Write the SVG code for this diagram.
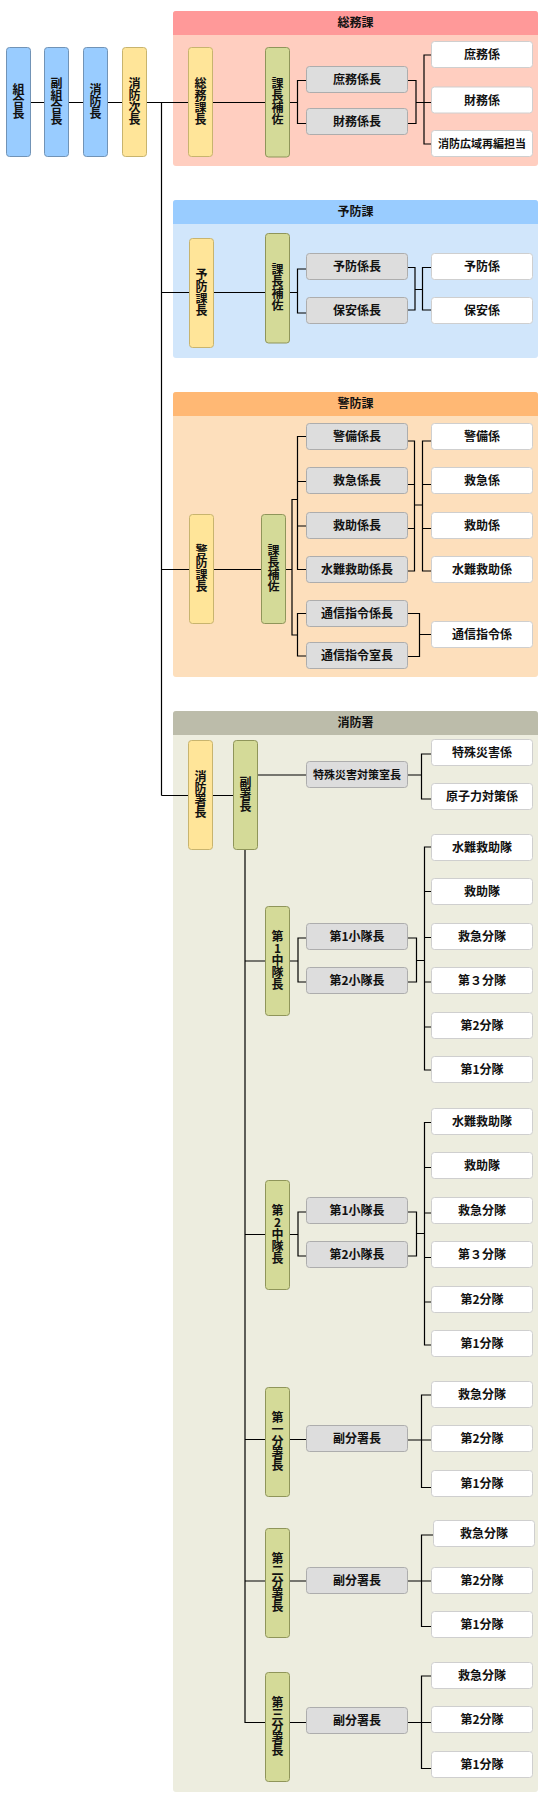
<svg xmlns="http://www.w3.org/2000/svg" width="545" height="1801" viewBox="0 0 545 1801">
<style>
text{font-family:"Noto Sans CJK JP","Noto Sans",sans-serif;font-size:12px;font-weight:700;fill:#111;text-anchor:middle}
.v{writing-mode:vertical-rl;text-orientation:upright;glyph-orientation-vertical:0}
.sm{font-size:11px}
.b{fill:#99ccff;stroke:#7193b6;stroke-width:1}
.y{fill:#ffe599;stroke:#c8b46e;stroke-width:1}
.g{fill:#d4da98;stroke:#8f955a;stroke-width:1}
.gr{fill:#dddddd;stroke:#adadad;stroke-width:1}
.w{fill:#ffffff;stroke:#cfcfcf;stroke-width:1}
.ln{fill:none;stroke:#000;stroke-width:1.2}
</style>
<rect width="545" height="1801" fill="#ffffff"/>
<g id="panels">
<g id="panel-soumu"><rect x="173" y="11" width="365" height="155" rx="3" fill="#ffcec0"/><path d="M173,35V14Q173,11 176,11H535Q538,11 538,14V35Z" fill="#ff9999"/><text x="355.5" y="27.4">総務課</text></g>
<g id="panel-yobou"><rect x="173" y="200" width="365" height="158" rx="3" fill="#d1e6fb"/><path d="M173,224V203Q173,200 176,200H535Q538,200 538,203V224Z" fill="#99ccff"/><text x="355.5" y="216.4">予防課</text></g>
<g id="panel-keibou"><rect x="173" y="392" width="365" height="285" rx="3" fill="#fddfbc"/><path d="M173,416V395Q173,392 176,392H535Q538,392 538,395V416Z" fill="#ffb874"/><text x="355.5" y="408.4">警防課</text></g>
<g id="panel-shoubousho"><rect x="173" y="711" width="365" height="1081" rx="3" fill="#ededdf"/><path d="M173,735V714Q173,711 176,711H535Q538,711 538,714V735Z" fill="#bcbcaa"/><text x="355.5" y="727.4">消防署</text></g>
</g>
<g id="connectors">
<path class="ln" d="M30.5,102.5H265.5M161.5,102.5V795.5"/>
<path class="ln" d="M289.5,102.5H297.5M306.5,80.5H297.5V123.5H306.5M407.5,80.5H416V123.5H407.5M416,102.5H431.5M431.5,55H424V144H431.5"/>
<path class="ln" d="M161.5,292.5H297.5M306.5,269H297.5V313H306.5M407.5,267.5H415V310H407.5M415,289.5H422.5M431.5,267.5H422.5V310H431.5"/>
<path class="ln" d="M161.5,569.5H292M297.5,499.5H292V635H297.5M306.5,436.5H297.5V569.5H306.5M297.5,481.5H306.5M297.5,526H306.5M306.5,613.5H297.5V656H306.5"/>
<path class="ln" d="M407.5,441H414.5V571H407.5M407.5,484.5H414.5M407.5,528.5H414.5M414.5,505H422.5M431.5,441H422.5V571H431.5M422.5,484.5H431.5M422.5,528.5H431.5M407.5,613.5H419.5V656.5H407.5M419.5,634.5H431.5"/>
<path class="ln" d="M161.5,795.5H233.5M257.5,775H306.5M407.5,775H421.5M431.5,754H421.5V799H431.5M245,849.5V1722.5H265.5"/>
<path class="ln" d="M245,961H298M306.5,938H298V982H306.5M407.5,938H416.5V982H407.5M416.5,960.5H424.5M431.5,847H424.5V1070H431.5M424.5,891.5H431.5M424.5,937.5H431.5M424.5,982H431.5M424.5,1027H431.5"/>
<path class="ln" d="M245,1234.5H298M306.5,1212H298V1256H306.5M407.5,1212H416.5V1256H407.5M416.5,1233.5H424.5M431.5,1122.5H424.5V1345H431.5M424.5,1167.5H431.5M424.5,1213H431.5M424.5,1257.5H431.5M424.5,1302H431.5"/>
<path class="ln" d="M245,1439.5H306.5M407.5,1440H421.5M431.5,1395H421.5V1487.5H431.5M421.5,1440H431.5"/>
<path class="ln" d="M245,1581H306.5M407.5,1581H421.5M433.5,1535H421.5V1626.5H431.5M421.5,1581H431.5"/>
<path class="ln" d="M289.5,1722.5H306.5M407.5,1722.5H421.5M431.5,1676H421.5V1768.5H431.5M421.5,1722.5H431.5"/>
</g>
<g id="nodes">
<g id="n-kumiaicho"><rect class="b" x="6.5" y="47.5" width="24" height="109" rx="3"/><text class="v" x="18.5" y="101">組合長</text></g>
<g id="n-fukukumiaicho"><rect class="b" x="44.5" y="47.5" width="24" height="109" rx="3"/><text class="v" x="56.5" y="101">副組合長</text></g>
<g id="n-shouboucho"><rect class="b" x="83.5" y="47.5" width="24" height="109" rx="3"/><text class="v" x="95.5" y="101">消防長</text></g>
<g id="n-jicho"><rect class="y" x="122.5" y="47.5" width="24" height="109" rx="3"/><text class="v" x="134.5" y="101">消防次長</text></g>

<g id="n-soumukacho"><rect class="y" x="188.5" y="47.5" width="24" height="109" rx="3"/><text class="v" x="200.5" y="101">総務課長</text></g>
<g id="n-soumu-hosa"><rect class="g" x="265.5" y="47.5" width="24" height="109.5" rx="3"/><text class="v" x="277.5" y="101">課長補佐</text></g>
<g id="n-shomukakaricho"><rect class="gr" x="306.5" y="66.5" width="101" height="26" rx="3"/><text x="357" y="84">庶務係長</text></g>
<g id="n-zaimukakaricho"><rect class="gr" x="306.5" y="108.5" width="101" height="26" rx="3"/><text x="357" y="126">財務係長</text></g>
<g id="n-shomukakari"><rect class="w" x="431.5" y="41.5" width="101" height="26" rx="3"/><text x="482" y="59">庶務係</text></g>
<g id="n-zaimukakari"><rect class="w" x="431.5" y="87" width="101" height="26" rx="3"/><text x="482" y="104.5">財務係</text></g>
<g id="n-kouiki"><rect class="w" x="431.5" y="130.5" width="101" height="26" rx="3"/><text class="sm" x="482" y="147.5">消防広域再編担当</text></g>

<g id="n-yoboukacho"><rect class="y" x="189.5" y="238.5" width="24" height="109" rx="3"/><text class="v" x="201.5" y="292">予防課長</text></g>
<g id="n-yobou-hosa"><rect class="g" x="265.5" y="233.5" width="24" height="109.5" rx="3"/><text class="v" x="277.5" y="287">課長補佐</text></g>
<g id="n-yoboukakaricho"><rect class="gr" x="306.5" y="253.5" width="101" height="26" rx="3"/><text x="357" y="271">予防係長</text></g>
<g id="n-hoankakaricho"><rect class="gr" x="306.5" y="297.5" width="101" height="26" rx="3"/><text x="357" y="315">保安係長</text></g>
<g id="n-yoboukakari"><rect class="w" x="431.5" y="253.5" width="101" height="26" rx="3"/><text x="482" y="271">予防係</text></g>
<g id="n-hoankakari"><rect class="w" x="431.5" y="297.5" width="101" height="26" rx="3"/><text x="482" y="315">保安係</text></g>

<g id="n-keiboukacho"><rect class="y" x="189.5" y="514.5" width="24" height="109" rx="3"/><text class="v" x="201.5" y="568">警防課長</text></g>
<g id="n-keibou-hosa"><rect class="g" x="261.5" y="514.5" width="24" height="109" rx="3"/><text class="v" x="273.5" y="568">課長補佐</text></g>
<g id="n-keibikakaricho"><rect class="gr" x="306.5" y="423.5" width="101" height="26" rx="3"/><text x="357" y="441">警備係長</text></g>
<g id="n-kyuukyuukakaricho"><rect class="gr" x="306.5" y="467.5" width="101" height="26" rx="3"/><text x="357" y="485">救急係長</text></g>
<g id="n-kyuujokakaricho"><rect class="gr" x="306.5" y="512.5" width="101" height="26" rx="3"/><text x="357" y="530">救助係長</text></g>
<g id="n-suinankakaricho"><rect class="gr" x="306.5" y="556.5" width="101" height="26" rx="3"/><text x="357" y="574">水難救助係長</text></g>
<g id="n-tsuushinkakaricho"><rect class="gr" x="306.5" y="600.5" width="101" height="26" rx="3"/><text x="357" y="618">通信指令係長</text></g>
<g id="n-tsuushinshicho"><rect class="gr" x="306.5" y="642.5" width="101" height="26" rx="3"/><text x="357" y="660">通信指令室長</text></g>
<g id="n-keibikakari"><rect class="w" x="431.5" y="423.5" width="101" height="26" rx="3"/><text x="482" y="441">警備係</text></g>
<g id="n-kyuukyuukakari"><rect class="w" x="431.5" y="467.5" width="101" height="26" rx="3"/><text x="482" y="485">救急係</text></g>
<g id="n-kyuujokakari"><rect class="w" x="431.5" y="512.5" width="101" height="26" rx="3"/><text x="482" y="530">救助係</text></g>
<g id="n-suinankakari"><rect class="w" x="431.5" y="556.5" width="101" height="26" rx="3"/><text x="482" y="574">水難救助係</text></g>
<g id="n-tsuushinkakari"><rect class="w" x="431.5" y="621.5" width="101" height="26" rx="3"/><text x="482" y="639">通信指令係</text></g>

<g id="n-shoubousho-cho"><rect class="y" x="188.5" y="740.5" width="24" height="109" rx="3"/><text class="v" x="200.5" y="794">消防署長</text></g>
<g id="n-fukushocho"><rect class="g" x="233.5" y="740.5" width="24" height="109" rx="3"/><text class="v" x="245.5" y="794">副署長</text></g>
<g id="n-tokushushicho"><rect class="gr" x="306.5" y="761.5" width="101" height="26" rx="3"/><text class="sm" x="357" y="778.5">特殊災害対策室長</text></g>
<g id="n-tokushukakari"><rect class="w" x="431.5" y="739.5" width="101" height="26" rx="3"/><text x="482" y="757">特殊災害係</text></g>
<g id="n-genshiryokukakari"><rect class="w" x="431.5" y="783.5" width="101" height="26" rx="3"/><text x="482" y="801">原子力対策係</text></g>

<g id="n-chuutai1"><rect class="g" x="265.5" y="906.5" width="24" height="109" rx="3"/><text class="v" x="277.5" y="960">第1中隊長</text></g>
<g id="n-c1-shoutai1"><rect class="gr" x="306.5" y="923.5" width="101" height="26" rx="3"/><text x="357" y="941">第1小隊長</text></g>
<g id="n-c1-shoutai2"><rect class="gr" x="306.5" y="967.5" width="101" height="26" rx="3"/><text x="357" y="985">第2小隊長</text></g>
<g id="n-c1-suinan"><rect class="w" x="431.5" y="834.5" width="101" height="26" rx="3"/><text x="482" y="852">水難救助隊</text></g>
<g id="n-c1-kyuujo"><rect class="w" x="431.5" y="878.5" width="101" height="26" rx="3"/><text x="482" y="896">救助隊</text></g>
<g id="n-c1-kyuukyuu"><rect class="w" x="431.5" y="923.5" width="101" height="26" rx="3"/><text x="482" y="941">救急分隊</text></g>
<g id="n-c1-bun3"><rect class="w" x="431.5" y="967.5" width="101" height="26" rx="3"/><text x="482" y="985">第３分隊</text></g>
<g id="n-c1-bun2"><rect class="w" x="431.5" y="1012.5" width="101" height="26" rx="3"/><text x="482" y="1030">第2分隊</text></g>
<g id="n-c1-bun1"><rect class="w" x="431.5" y="1056.5" width="101" height="26" rx="3"/><text x="482" y="1074">第1分隊</text></g>

<g id="n-chuutai2"><rect class="g" x="265.5" y="1180.5" width="24" height="109" rx="3"/><text class="v" x="277.5" y="1234">第2中隊長</text></g>
<g id="n-c2-shoutai1"><rect class="gr" x="306.5" y="1197.5" width="101" height="26" rx="3"/><text x="357" y="1215">第1小隊長</text></g>
<g id="n-c2-shoutai2"><rect class="gr" x="306.5" y="1241.5" width="101" height="26" rx="3"/><text x="357" y="1259">第2小隊長</text></g>
<g id="n-c2-suinan"><rect class="w" x="431.5" y="1108.5" width="101" height="26" rx="3"/><text x="482" y="1126">水難救助隊</text></g>
<g id="n-c2-kyuujo"><rect class="w" x="431.5" y="1152.5" width="101" height="26" rx="3"/><text x="482" y="1170">救助隊</text></g>
<g id="n-c2-kyuukyuu"><rect class="w" x="431.5" y="1197.5" width="101" height="26" rx="3"/><text x="482" y="1215">救急分隊</text></g>
<g id="n-c2-bun3"><rect class="w" x="431.5" y="1241.5" width="101" height="26" rx="3"/><text x="482" y="1259">第３分隊</text></g>
<g id="n-c2-bun2"><rect class="w" x="431.5" y="1286.5" width="101" height="26" rx="3"/><text x="482" y="1304">第2分隊</text></g>
<g id="n-c2-bun1"><rect class="w" x="431.5" y="1330.5" width="101" height="26" rx="3"/><text x="482" y="1348">第1分隊</text></g>

<g id="n-bunsho1"><rect class="g" x="265.5" y="1387.5" width="24" height="109" rx="3"/><text class="v" x="277.5" y="1441">第一分署長</text></g>
<g id="n-b1-fuku"><rect class="gr" x="306.5" y="1425.5" width="101" height="26" rx="3"/><text x="357" y="1443">副分署長</text></g>
<g id="n-b1-kyuukyuu"><rect class="w" x="431.5" y="1381.5" width="101" height="26" rx="3"/><text x="482" y="1399">救急分隊</text></g>
<g id="n-b1-bun2"><rect class="w" x="431.5" y="1425.5" width="101" height="26" rx="3"/><text x="482" y="1443">第2分隊</text></g>
<g id="n-b1-bun1"><rect class="w" x="431.5" y="1470.5" width="101" height="26" rx="3"/><text x="482" y="1488">第1分隊</text></g>

<g id="n-bunsho2"><rect class="g" x="265.5" y="1528.5" width="24" height="109" rx="3"/><text class="v" x="277.5" y="1582">第二分署長</text></g>
<g id="n-b2-fuku"><rect class="gr" x="306.5" y="1567.5" width="101" height="26" rx="3"/><text x="357" y="1585">副分署長</text></g>
<g id="n-b2-kyuukyuu"><rect class="w" x="433.5" y="1520.5" width="101" height="26" rx="3"/><text x="484" y="1538">救急分隊</text></g>
<g id="n-b2-bun2"><rect class="w" x="431.5" y="1567.5" width="101" height="26" rx="3"/><text x="482" y="1585">第2分隊</text></g>
<g id="n-b2-bun1"><rect class="w" x="431.5" y="1611.5" width="101" height="26" rx="3"/><text x="482" y="1629">第1分隊</text></g>

<g id="n-bunsho3"><rect class="g" x="265.5" y="1672.5" width="24" height="109" rx="3"/><text class="v" x="277.5" y="1726">第三分署長</text></g>
<g id="n-b3-fuku"><rect class="gr" x="306.5" y="1707.5" width="101" height="26" rx="3"/><text x="357" y="1725">副分署長</text></g>
<g id="n-b3-kyuukyuu"><rect class="w" x="431.5" y="1662.5" width="101" height="26" rx="3"/><text x="482" y="1680">救急分隊</text></g>
<g id="n-b3-bun2"><rect class="w" x="431.5" y="1706.5" width="101" height="26" rx="3"/><text x="482" y="1724">第2分隊</text></g>
<g id="n-b3-bun1"><rect class="w" x="431.5" y="1751.5" width="101" height="26" rx="3"/><text x="482" y="1769">第1分隊</text></g>
</g>
</svg>
